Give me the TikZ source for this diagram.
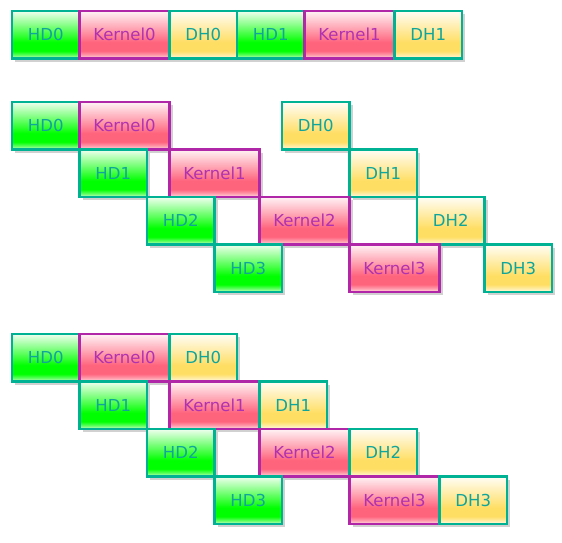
\documentclass[tikz,border=0pt]{standalone}
\usepackage{fontspec}
\setmainfont{DejaVu Sans}
\usetikzlibrary{shadows}
\definecolor{hdgreen}{RGB}{0,255,0}
\definecolor{kred}{RGB}{255,100,125}
\definecolor{dhyel}{RGB}{255,222,100}
\definecolor{tealc}{RGB}{0,178,148}
\definecolor{tealtxt}{RGB}{15,165,155}
\definecolor{purp}{RGB}{176,40,168}
\definecolor{purptxt}{RGB}{176,50,176}
\pgfdeclareverticalshading{hdsh}{100bp}{color(0bp)=(hdgreen!20!white); color(25bp)=(hdgreen!20!white); color(29bp)=(hdgreen!65!white); color(33bp)=(hdgreen); color(42bp)=(hdgreen); color(75bp)=(hdgreen!6!white); color(100bp)=(hdgreen!6!white)}
\pgfdeclareverticalshading{ksh}{100bp}{color(0bp)=(kred!20!white); color(25bp)=(kred!20!white); color(29bp)=(kred!65!white); color(33bp)=(kred); color(42bp)=(kred); color(75bp)=(kred!8!white); color(100bp)=(kred!8!white)}
\pgfdeclareverticalshading{dhsh}{100bp}{color(0bp)=(dhyel!15!white); color(25bp)=(dhyel!15!white); color(29bp)=(dhyel!60!white); color(33bp)=(dhyel); color(42bp)=(dhyel); color(75bp)=(dhyel!6!white); color(100bp)=(dhyel!6!white)}
\tikzset{
  box/.style={draw, line width=2.2pt, rectangle, anchor=north west, inner sep=0pt, outer sep=0pt,
    minimum height=47.5pt, font=\fontsize{16.5}{19}\selectfont,
    drop shadow={shadow xshift=3pt, shadow yshift=-3pt, fill=black!18, opacity=1}},
  hdbox/.style={box, draw=tealc, shading=hdsh, text=tealtxt, minimum width=67.5pt},
  kbox/.style={box, draw=purp, shading=ksh, text=purptxt, minimum width=90pt},
  dhbox/.style={box, draw=tealc, shading=dhsh, text=tealtxt, minimum width=67.5pt}
}
\begin{document}
\begin{tikzpicture}[x=1pt,y=-1pt]
\useasboundingbox (0,0) rectangle (562,542);
% section 1
\node[hdbox] (s1hd0) at (12,11) {HD0};
\node[kbox] (s1k0) at (79.5,11) {Kernel0};
\node[dhbox] (s1dh0) at (169.5,11) {DH0};
\node[hdbox] (s1hd1) at (237,11) {HD1};
\node[kbox] (s1k1) at (304.5,11) {Kernel1};
\node[dhbox] (s1dh1) at (394.5,11) {DH1};
% section 2
\node[hdbox] (s2hd0) at (12,102) {HD0};
\node[kbox] (s2k0) at (79.5,102) {Kernel0};
\node[dhbox] (s2dh0) at (282,102) {DH0};
\node[hdbox] (s2hd1) at (79.5,149.5) {HD1};
\node[kbox] (s2k1) at (169.5,149.5) {Kernel1};
\node[dhbox] (s2dh1) at (349.5,149.5) {DH1};
\node[hdbox] (s2hd2) at (147,197) {HD2};
\node[kbox] (s2k2) at (259.5,197) {Kernel2};
\node[dhbox] (s2dh2) at (417,197) {DH2};
\node[hdbox] (s2hd3) at (214.5,244.5) {HD3};
\node[kbox] (s2k3) at (349.5,244.5) {Kernel3};
\node[dhbox] (s2dh3) at (484.5,244.5) {DH3};
% section 3
\node[hdbox] (s3hd0) at (12,334) {HD0};
\node[kbox] (s3k0) at (79.5,334) {Kernel0};
\node[dhbox] (s3dh0) at (169.5,334) {DH0};
\node[hdbox] (s3hd1) at (79.5,381.5) {HD1};
\node[kbox] (s3k1) at (169.5,381.5) {Kernel1};
\node[dhbox] (s3dh1) at (259.5,381.5) {DH1};
\node[hdbox] (s3hd2) at (147,429) {HD2};
\node[kbox] (s3k2) at (259.5,429) {Kernel2};
\node[dhbox] (s3dh2) at (349.5,429) {DH2};
\node[hdbox] (s3hd3) at (214.5,476.5) {HD3};
\node[kbox] (s3k3) at (349.5,476.5) {Kernel3};
\node[dhbox] (s3dh3) at (439.5,476.5) {DH3};
\end{tikzpicture}
\end{document}
